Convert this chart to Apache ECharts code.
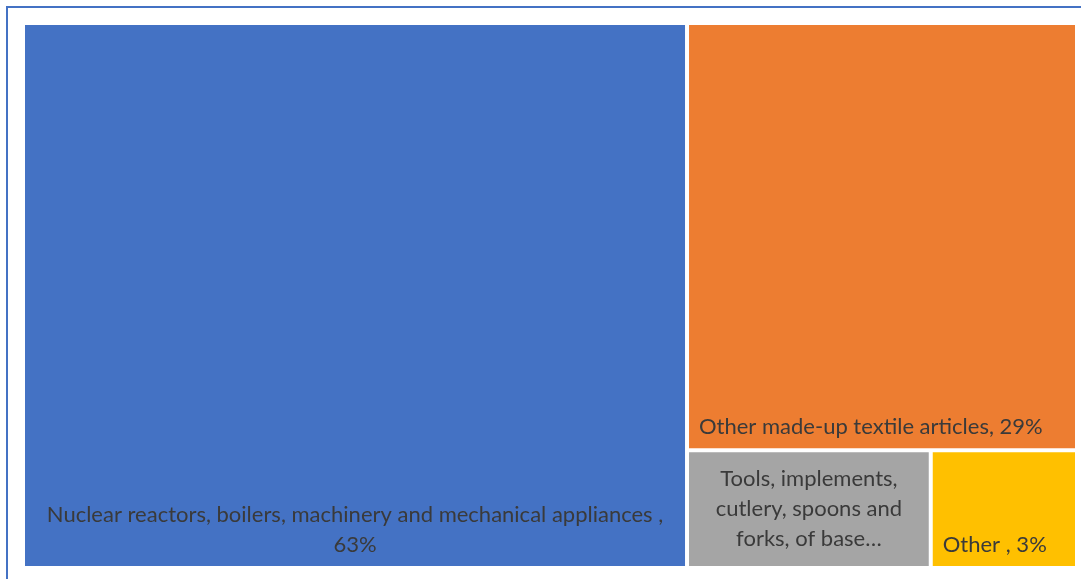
<!DOCTYPE html>
<html lang="en">
<head>
  <meta charset="UTF-8" />
  <title>Treemap</title>
  <script src="https://cdn.jsdelivr.net/npm/echarts@6/dist/echarts.min.js"></script>
  <style>
    html, body { margin: 0; padding: 0; background: #fff; }
    #main { width: 1081px; height: 579px; }
  </style>
</head>
<body>
  <div id="main"></div>
  <script>
    // 数据
    var names = [
      "Nuclear reactors, boilers, machinery and mechanical appliances ",
      "Other made-up textile articles",
      "Tools, implements, cutlery, spoons and forks, of base metal",
      "Other "
    ];
    var values = [63, 29, 5, 3];
    var labels = [
      "Nuclear reactors, boilers, machinery and mechanical appliances ,\n63%",
      "Other made-up textile articles, 29%",
      "Tools, implements,\ncutlery, spoons and\nforks, of base…",
      "Other , 3%"
    ];
    var colors = ["#4472C4", "#ED7D31", "#A5A5A5", "#FFC000"];
    var positions = ["insideBottom", "insideBottomLeft", "inside", "insideBottomLeft"];

    var myChart = echarts.init(document.getElementById("main"));

    var data = names.map(function (n, i) {
      return {
        name: n,
        value: values[i],
        itemStyle: { color: colors[i] },
        label: {
          position: positions[i],
          align: i === 0 || i === 2 ? "center" : "left",
          formatter: labels[i]
        }
      };
    });

    var option = {
      animation: false,
      graphic: [
        {
          type: "rect",
          shape: { x: 7, y: 7, width: 1200, height: 700 },
          style: { fill: "none", stroke: "#4472C4", lineWidth: 2 },
          z: 100
        }
      ],
      series: [
        {
          type: "treemap",
          left: 25,
          top: 25,
          right: 6,
          bottom: 13,
          roam: false,
          nodeClick: false,
          breadcrumb: { show: false },
          label: {
            show: true,
            color: "#3a3a3a",
            fontFamily: "Lato",
            fontSize: 22,
            lineHeight: 30,
            padding: [6, 10, 6, 10]
          },
          upperLabel: { show: false },
          levels: [
            { itemStyle: { borderWidth: 0, gapWidth: 4 } }
          ],
          itemStyle: { borderWidth: 0 },
          data: data
        }
      ]
    };

    myChart.setOption(option);
  </script>
</body>
</html>
